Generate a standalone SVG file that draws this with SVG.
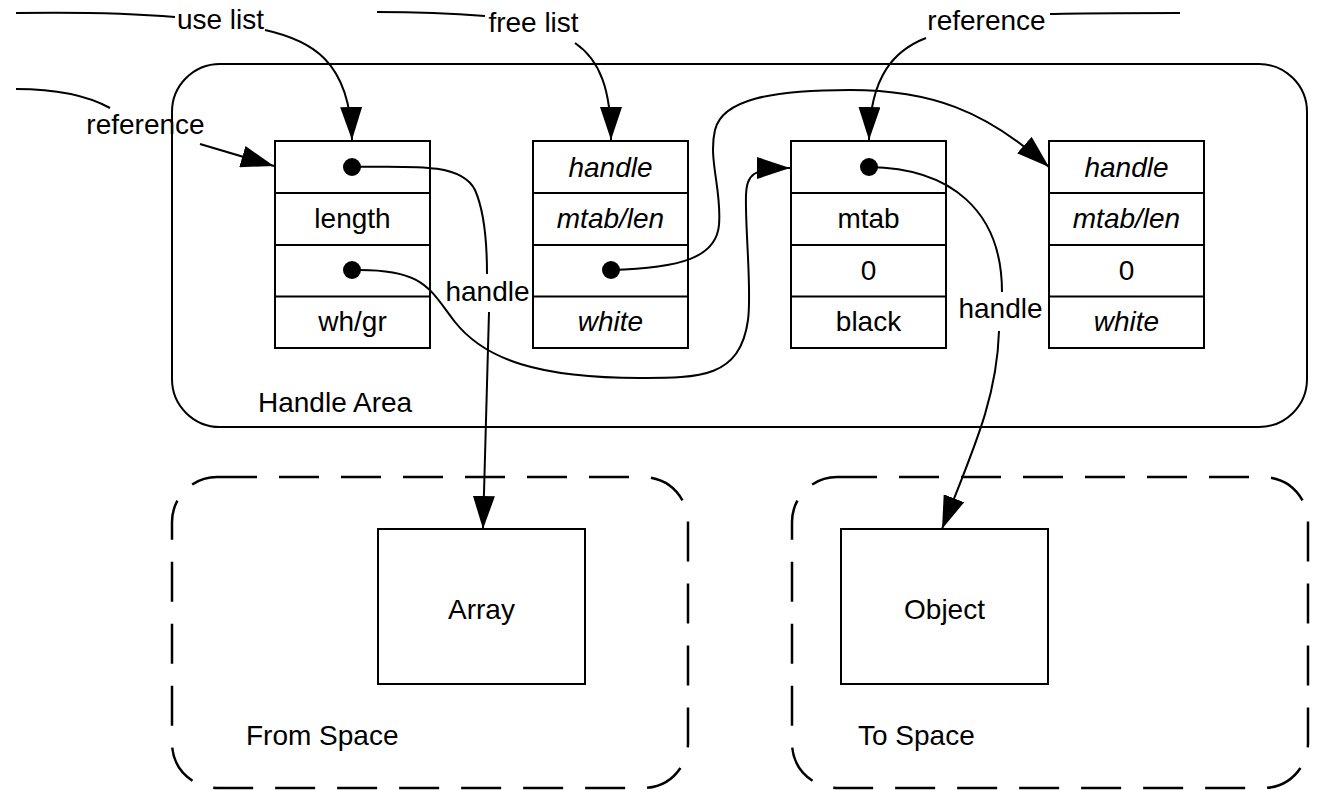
<svg xmlns="http://www.w3.org/2000/svg" width="1319" height="790" viewBox="0 0 1319 790">
<style>
text{font-family:"Liberation Sans",Arial,sans-serif;font-size:28px;fill:#000}
.c{text-anchor:middle}
.i{font-style:italic}
.box{fill:#fff;stroke:#000;stroke-width:2}
.sep{stroke:#000;stroke-width:2}
.ln{fill:none;stroke:#000;stroke-width:2}
.dash{fill:none;stroke:#000;stroke-width:2.5;stroke-dasharray:40 22}
.dot{fill:#000}
</style>
<defs>
<marker id="ah" viewBox="0 0 33 22" refX="33" refY="11" markerWidth="33" markerHeight="22" markerUnits="userSpaceOnUse" orient="auto">
<path d="M0,0 L33,11 L0,22 z" fill="#000"/>
</marker>
</defs>
<rect width="1319" height="790" fill="#fff"/>

<g id="handle-area">
<rect x="172" y="64" width="1135" height="363" rx="48" ry="48" class="ln"/>
<text x="258" y="412">Handle Area</text>
</g>

<g id="from-space">
<rect x="172" y="477" width="516" height="311" rx="45" ry="45" class="dash"/>
<text x="246" y="745">From Space</text>
</g>

<g id="to-space">
<rect x="792" y="477" width="516" height="311" rx="45" ry="45" class="dash"/>
<text x="858" y="745">To Space</text>
</g>

<g id="array">
<rect x="378" y="529" width="207" height="155" class="box"/>
<text x="481.5" y="619" class="c">Array</text>
</g>

<g id="object">
<rect x="841" y="529" width="207" height="155" class="box"/>
<text x="944.5" y="619" class="c">Object</text>
</g>

<g id="handle1">
<rect x="275" y="141" width="155" height="207" class="box"/>
<line x1="275" y1="193" x2="430" y2="193" class="sep"/>
<line x1="275" y1="245" x2="430" y2="245" class="sep"/>
<line x1="275" y1="296.5" x2="430" y2="296.5" class="sep"/>
<text x="352.5" y="228" class="c">length</text>
<text x="352.5" y="331" class="c">wh/gr</text>
</g>

<g id="handle2">
<rect x="533" y="141" width="155" height="207" class="box"/>
<line x1="533" y1="193" x2="688" y2="193" class="sep"/>
<line x1="533" y1="245" x2="688" y2="245" class="sep"/>
<line x1="533" y1="296.5" x2="688" y2="296.5" class="sep"/>
<text x="610.5" y="177" class="c i">handle</text>
<text x="610.5" y="228" class="c i">mtab/len</text>
<text x="610.5" y="331" class="c i">white</text>
</g>

<g id="handle3">
<rect x="791" y="141" width="155" height="207" class="box"/>
<line x1="791" y1="193" x2="946" y2="193" class="sep"/>
<line x1="791" y1="245" x2="946" y2="245" class="sep"/>
<line x1="791" y1="296.5" x2="946" y2="296.5" class="sep"/>
<text x="868.5" y="228" class="c">mtab</text>
<text x="868.5" y="280" class="c">0</text>
<text x="868.5" y="331" class="c">black</text>
</g>

<g id="handle4">
<rect x="1049" y="141" width="155" height="207" class="box"/>
<line x1="1049" y1="193" x2="1204" y2="193" class="sep"/>
<line x1="1049" y1="245" x2="1204" y2="245" class="sep"/>
<line x1="1049" y1="296.5" x2="1204" y2="296.5" class="sep"/>
<text x="1126.5" y="177" class="c i">handle</text>
<text x="1126.5" y="228" class="c i">mtab/len</text>
<text x="1126.5" y="280" class="c">0</text>
<text x="1126.5" y="331" class="c i">white</text>
</g>

<g id="connectors">
<!-- use list -->
<path d="M16,13 C80,12 140,14 175,17" class="ln"/>
<path d="M265,30 C310,40 350,60 352,140" class="ln" marker-end="url(#ah)"/>
<text x="220.5" y="29" class="c">use list</text>
<!-- free list -->
<path d="M377,12 C420,12 460,14 485,16" class="ln"/>
<path d="M575,43 C600,60 611,90 611,140" class="ln" marker-end="url(#ah)"/>
<text x="533.5" y="32" class="c">free list</text>
<!-- reference (top) -->
<path d="M1180,13 C1120,13 1080,13 1050,14" class="ln"/>
<path d="M926,38 C895,50 870,75 869,140" class="ln" marker-end="url(#ah)"/>
<text x="986.5" y="30" class="c">reference</text>
<!-- reference (left) -->
<path d="M16,89 C60,89 90,97 110,108" class="ln"/>
<path d="M200,144 L274,166" class="ln" marker-end="url(#ah)"/>
<text x="145.5" y="134" class="c">reference</text>
<!-- handle1 -> Array -->
<path d="M352,167 C420,166 462,164 475,190 C486,215 487,250 487,274" class="ln"/>
<path d="M489,312 L483,529" class="ln" marker-end="url(#ah)"/>
<text x="487.5" y="301" class="c">handle</text>
<!-- handle1 row3 -> handle3 -->
<path d="M352,270 C425,268 430,290 455,322 C485,360 540,378 640,378 C700,378 740,378 748,320 C752,290 745,230 746,195 C747,175 752,168 790,168" class="ln" marker-end="url(#ah)"/>
<!-- handle2 row3 -> handle4 -->
<path d="M611,270 C680,268 716,258 719,225 C722,190 708,160 715,130 C722,100 770,90 850,90 C930,90 985,110 1049,167" class="ln" marker-end="url(#ah)"/>
<!-- handle3 -> Object -->
<path d="M869,167 C950,168 1002,210 1002,292" class="ln"/>
<path d="M999,331 C997,400 972,452 942,529" class="ln" marker-end="url(#ah)"/>
<text x="1000.5" y="318" class="c">handle</text>
<!-- dots -->
<circle cx="352" cy="167" r="9" class="dot"/>
<circle cx="352" cy="270" r="9" class="dot"/>
<circle cx="611" cy="270" r="9" class="dot"/>
<circle cx="869" cy="167" r="9" class="dot"/>
</g>
</svg>
